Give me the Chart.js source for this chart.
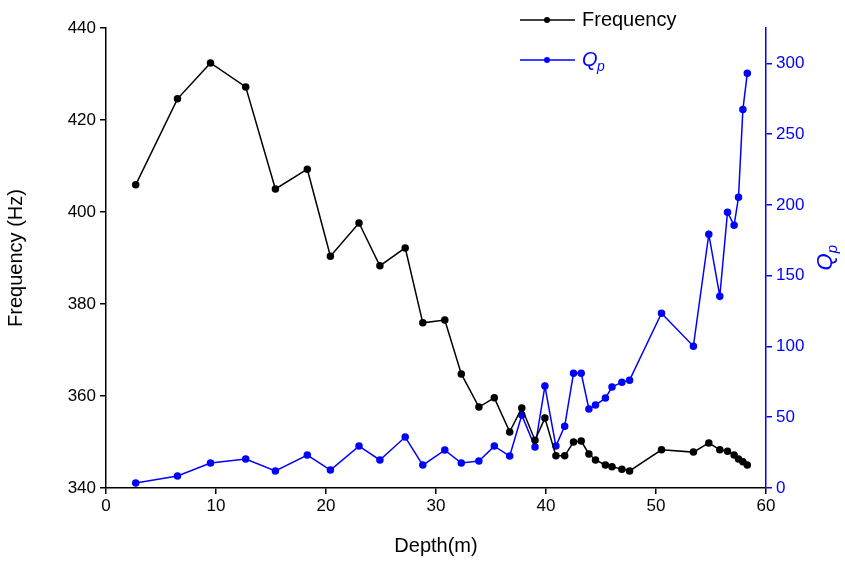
<!DOCTYPE html>
<html><head><script src="https://cdn.jsdelivr.net/npm/chart.js@4"></script>
<style>body{margin:0;background:#fff}#w{width:845px;height:562px}</style></head>
<body><div id="w"><canvas id="c"></canvas></div>
<script>
const depth=[2.7,6.5,9.5,12.7,15.4,18.3,20.4,23.0,24.9,27.2,28.8,30.8,32.3,33.9,35.3,36.7,37.8,39.0,39.9,40.9,41.7,42.5,43.2,43.9,44.5,45.4,46.0,46.9,47.6,50.5,53.4,54.8,55.8,56.5,57.1,57.5,57.9,58.3];
const freq=[405.9,424.6,432.4,427.2,405,409.3,390.4,397.6,388.3,392.2,375.9,376.5,364.8,357.6,359.6,352.2,357.4,350.4,355.2,347,347,350,350.2,347.4,346.1,345,344.6,344.1,343.7,348.3,347.8,349.8,348.3,348,347.2,346.3,345.7,345];
const qp=[3.5,8.5,17.6,20.5,12,23.3,12.7,29.6,19.8,36,16.2,26.8,17.6,19,29.6,22.6,51.5,28.9,72,29.6,43.7,81,81,55.8,58.6,63.5,71.3,74.8,76.2,123.5,100.2,179.3,135.5,194.8,185.6,205.4,267.5,293];
const F='Arial, "Liberation Sans", sans-serif';
const legendPlugin={id:'lg',afterDraw(ch){const c=ch.ctx;c.save();
 const items=[['#000','Frequency',false],['#0000ff','Q',true]];
 items.forEach((it,i)=>{const y=20+i*40;c.strokeStyle=it[0];c.fillStyle=it[0];c.lineWidth=1.5;
  c.beginPath();c.moveTo(520,y);c.lineTo(575,y);c.stroke();c.beginPath();c.arc(547,y,3,0,7);c.fill();
  if(!it[2]){c.font='20px '+F;c.textBaseline='middle';c.fillText(it[1],582,y);}
  else{c.font='italic 20px '+F;c.textBaseline='middle';c.fillText('Q',582,y);c.font='italic 14px '+F;c.fillText('p',597,y+7);}
 });
 c.translate(826,258);c.rotate(-Math.PI/2);c.fillStyle='#0000ff';c.textBaseline='middle';c.textAlign='center';
 c.font='italic 22px '+F;c.fillText('Q',-4,0);c.font='italic 15px '+F;c.fillText('p',9,7);
 c.restore();}};
const g=(col)=>({display:true,drawOnChartArea:false,drawTicks:true,tickLength:6,color:col,lineWidth:1.5});
new Chart(document.getElementById('c'),{type:'line',
 data:{datasets:[
  {data:depth.map((d,i)=>({x:d,y:freq[i]})),borderColor:'#000',backgroundColor:'#000',borderWidth:1.5,pointRadius:3,yAxisID:'y'},
  {data:depth.map((d,i)=>({x:d,y:qp[i]})),borderColor:'#0000ff',backgroundColor:'#0000ff',borderWidth:1.5,pointRadius:3,yAxisID:'y1'}]},
 options:{responsive:true,maintainAspectRatio:false,animation:false,
  layout:{padding:{top:28,left:0,right:0,bottom:0}},
  plugins:{legend:{display:false},tooltip:{enabled:false}},
  scales:{
   x:{type:'linear',min:0,max:60,ticks:{stepSize:10,color:'#000',padding:2,font:{size:17,family:F}},
      grid:g('#000'),border:{color:'#000',width:1.5},
      title:{display:true,text:'Depth(m)',color:'#000',padding:{top:6},font:{size:20,family:F}},
      afterFit(s){s.height=74;}},
   y:{position:'left',min:340,max:440,ticks:{stepSize:20,color:'#000',padding:4,font:{size:17,family:F}},
      grid:g('#000'),border:{color:'#000',width:1.5},
      title:{display:true,text:'Frequency (Hz)',color:'#000',padding:{bottom:12},font:{size:20,family:F}},
      afterFit(s){s.width=106;}},
   y1:{position:'right',min:0,max:325,ticks:{color:'#0000ff',padding:4,font:{size:17,family:F}},
      afterBuildTicks(s){s.ticks=[0,50,100,150,200,250,300].map(v=>({value:v}));},
      grid:g('#0000ff'),border:{color:'#0000ff',width:1.5},
      afterFit(s){s.width=79;}}
  }},plugins:[legendPlugin]});
</script></body></html>
